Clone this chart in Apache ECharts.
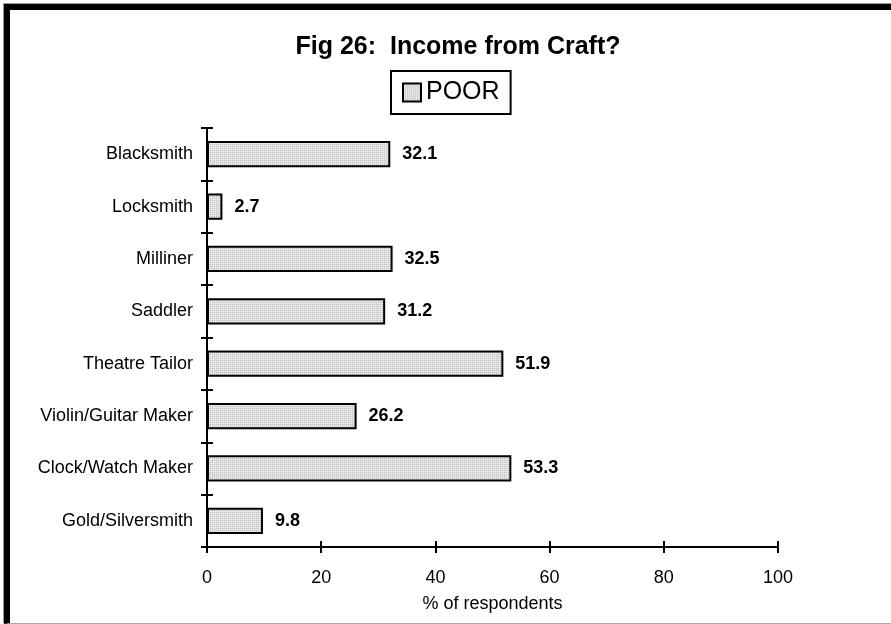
<!DOCTYPE html>
<html>
<head>
<meta charset="utf-8">
<title>Fig 26</title>
<script src="https://cdn.jsdelivr.net/npm/echarts@6/dist/echarts.min.js"></script>
<style>
  html, body { margin: 0; padding: 0; background: #fff; overflow: hidden; }
  .main-box { position: relative; width: 891px; height: 624px; }
  .main-content { position: absolute; left: 0; top: 0; width: 891px; height: 624px; }
  /* old-style frame round the chart */
  .frame {
    position: absolute; left: 4px; top: 4px; right: -20px; bottom: 0;
    border-top: 6px solid #000; border-left: 6px solid #000;
    border-bottom: 1px solid #aaa;
    box-shadow: -1px -1px 0 #999;
    pointer-events: none;
  }
</style>
</head>
<body>
<div class="main-box">
  <div class="main-content" id="chart"></div>
  <div class="frame"></div>
</div>
<script>
const titleText = 'Fig 26:  Income from Craft?'
const seriesName = 'POOR'
const crafts = ['Blacksmith', 'Locksmith', 'Milliner', 'Saddler', 'Theatre Tailor', 'Violin/Guitar Maker', 'Clock/Watch Maker', 'Gold/Silversmith']
const poorArr = [32.1, 2.7, 32.5, 31.2, 51.9, 26.2, 53.3, 9.8]
const xTicks = [0, 20, 40, 60, 80, 100]

const font = '"Liberation Sans", Arial, sans-serif'

// dotted grey fill like the old print pattern
const makePattern = () => {
  const c = document.createElement('canvas')
  c.width = 2
  c.height = 2
  const ctx = c.getContext('2d')
  ctx.fillStyle = '#e6e6e6'
  ctx.fillRect(0, 0, 2, 2)
  ctx.fillStyle = '#bdbdbd'
  ctx.fillRect(0, 0, 1, 1)
  return { image: c, repeat: 'repeat' }
}

const chartInstance = echarts.init(document.getElementById('chart'))
const tickBase = { show: true, length: 6, lineStyle: { color: '#000', width: 2 } }

const option = {
  animation: false,
  textStyle: { fontFamily: font },
  title: {
    text: titleText,
    left: 453,
    textAlign: 'center',
    top: 30,
    textStyle: { fontFamily: font, fontSize: 25, fontWeight: 'bold', color: '#000' }
  },
  legend: {
    left: 391,
    top: 71,
    padding: [9, 11],
    borderColor: '#000',
    borderWidth: 2,
    itemWidth: 18,
    itemHeight: 18,
    icon: 'rect',
    textStyle: { fontFamily: font, fontSize: 25, color: '#000' },
    data: [seriesName]
  },
  grid: { left: 207, right: 113, top: 128, bottom: 77, containLabel: false },
  xAxis: [
    {
      type: 'value',
      min: 0,
      max: 100,
      interval: 20,
      name: '% of respondents',
      nameLocation: 'middle',
      nameGap: 48,
      nameTextStyle: { fontFamily: font, fontSize: 18, color: '#000' },
      axisLine: { show: true, lineStyle: { color: '#000', width: 2 } },
      axisTick: tickBase,
      splitLine: { show: false },
      axisLabel: {
        fontFamily: font, fontSize: 18, color: '#000', margin: 22,
        formatter: v => (xTicks.includes(v) ? String(v) : '')
      }
    },
    {
      // inner half of the crossing ticks
      type: 'value',
      position: 'bottom',
      min: 0,
      max: 100,
      interval: 20,
      axisLine: { show: false },
      axisTick: { ...tickBase, inside: true },
      splitLine: { show: false },
      axisLabel: { show: false }
    }
  ],
  yAxis: [
    {
      type: 'category',
      inverse: true,
      data: crafts,
      axisLine: { show: true, lineStyle: { color: '#000', width: 2 } },
      axisTick: tickBase,
      axisLabel: { fontFamily: font, fontSize: 18, color: '#000', margin: 14 }
    },
    {
      type: 'category',
      position: 'left',
      inverse: true,
      data: crafts,
      axisLine: { show: false },
      axisTick: { ...tickBase, inside: true },
      axisLabel: { show: false }
    }
  ],
  series: [
    {
      name: seriesName,
      type: 'bar',
      barWidth: '50%',
      itemStyle: { color: makePattern(), borderColor: '#000', borderWidth: 2 },
      label: {
        show: true,
        position: 'right',
        distance: 12,
        fontFamily: font,
        fontSize: 18,
        fontWeight: 'bold',
        color: '#000',
        formatter: p => p.value.toFixed(1)
      },
      data: poorArr
    }
  ]
}
chartInstance.setOption(option)
</script>
</body>
</html>
